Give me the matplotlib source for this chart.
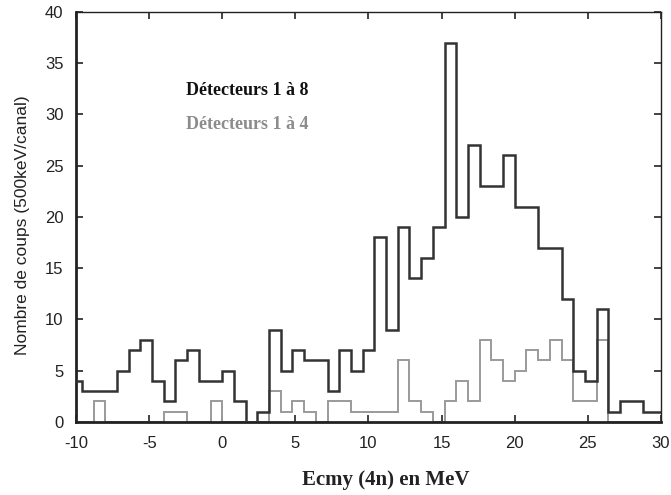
"""
Ecmy (4n) spectrum: detectors 1-8 vs detectors 1-4.
"""

import numpy as np
import matplotlib.pyplot as plt

plt.rcParams["axes.unicode_minus"] = False

# bin edges (MeV): channels 0.8 MeV wide, starting at -10.4
first_edge = -10.4
bin_width = 0.8

counts_1_8 = [4, 3, 3, 3, 5, 7, 8, 4, 2, 6,
              7, 4, 4, 5, 2, 0, 1, 9, 5, 7,
              6, 6, 3, 7, 5, 7, 18, 9, 19, 14,
              16, 19, 37, 20, 27, 23, 23, 26, 21, 21,
              17, 17, 12, 5, 4, 11, 1, 2, 2, 1,
              1]

counts_1_4 = [0, 0, 2, 0, 0, 0, 0, 0, 1, 1,
              0, 0, 2, 0, 0, 0, 0, 3, 1, 2,
              1, 0, 2, 2, 1, 1, 1, 1, 6, 2,
              1, 0, 2, 4, 2, 8, 6, 4, 5, 7,
              6, 8, 6, 2, 2, 8, 0, 0, 0, 0,
              0]

x_ticks = [-10, -5, 0, 5, 10, 15, 20, 25, 30]
y_ticks = [0, 5, 10, 15, 20, 25, 30, 35, 40]

edges = first_edge + bin_width * np.arange(len(counts_1_8) + 1)

fig = plt.figure(figsize=(6.71, 4.95), dpi=100)
ax = fig.add_axes([0.1133, 0.1475, 0.8717, 0.8283])

ax.stairs(counts_1_4, edges, color="#9a9a9a", linewidth=1.4, baseline=0, zorder=2)
ax.stairs(counts_1_8, edges, color="#333333", linewidth=1.8, baseline=0, zorder=3)

ax.set_xlim(-10, 30)
ax.set_ylim(0, 40)
ax.set_xticks(x_ticks)
ax.set_yticks(y_ticks)
ax.tick_params(direction="in", top=True, right=True, length=5, width=1.2,
               labelsize=12, colors="#222222")
ax.tick_params(axis="x", labeltop=False, pad=10)
ax.tick_params(axis="y", labelright=False, pad=9)
for lbl in ax.get_xticklabels() + ax.get_yticklabels():
    lbl.set_family("Liberation Sans")

ax.spines["left"].set_linewidth(2.0)
ax.spines["bottom"].set_linewidth(2.0)
ax.spines["top"].set_linewidth(1.0)
ax.spines["right"].set_linewidth(1.0)
for s in ax.spines.values():
    s.set_color("#222222")

# axis titles placed by hand to follow the scanned figure
ax.text(-0.091, 0.48, "Nombre de coups (500keV/canal)", transform=ax.transAxes,
        rotation=90, ha="center", va="center", fontsize=12.5,
        family="Liberation Sans", color="#222222")
ax.text(0.53, -0.142, "Ecmy (4n) en MeV", transform=ax.transAxes,
        ha="center", va="center", fontsize=15, family="Liberation Serif",
        fontweight="bold", color="#222222")

ax.text(-2.45, 32.3, "Détecteurs 1 à 8", fontsize=13, family="Liberation Serif",
        fontweight="bold", color="#111111", va="center", ha="left")
ax.text(-2.45, 29.0, "Détecteurs 1 à 4", fontsize=13, family="Liberation Serif",
        fontweight="bold", color="#8c8c8c", va="center", ha="left")

fig.savefig("out.png", dpi=100)
plt.close(fig)
